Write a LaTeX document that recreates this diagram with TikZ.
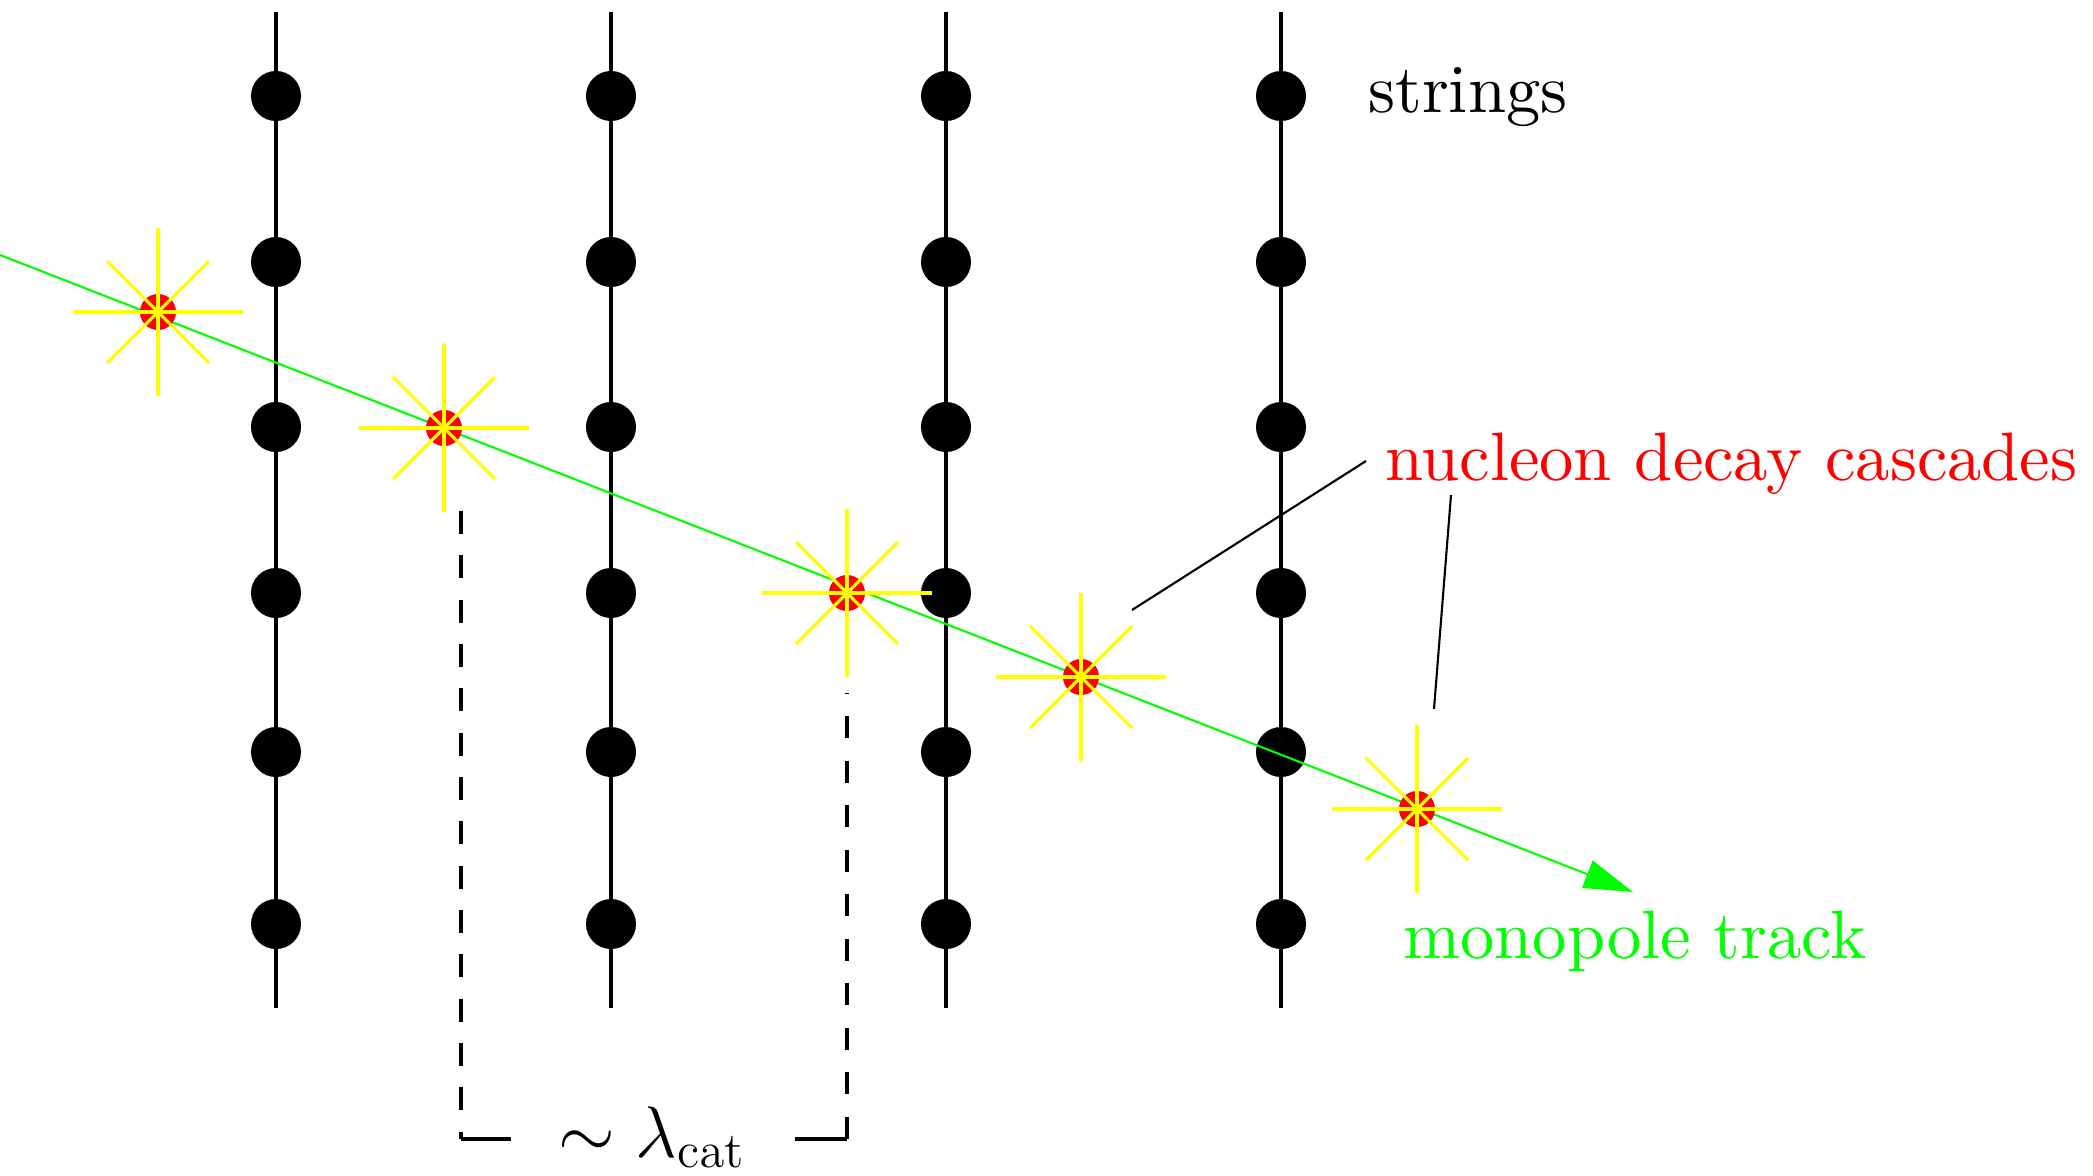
\documentclass[tikz,border=0pt]{standalone}
\usetikzlibrary{arrows.meta}
\definecolor{trk}{RGB}{0,255,0}
\definecolor{ylw}{RGB}{255,255,0}
\definecolor{rd}{RGB}{255,0,0}
\newcommand\lblfont{\fontsize{19.5}{23.4}\selectfont}
\newcommand\tenfont{\fontsize{10}{12}\selectfont}
\tikzset{
  stringline/.style={draw=black, line width=0.95pt},
  dom/.style={circle, fill=black, draw=none, minimum size=0.5cm, inner sep=0pt},
  track/.style={draw=trk, line width=0.6pt},
  casc/.style={circle, fill=rd, draw=none, minimum size=0.36cm, inner sep=0pt},
  ray/.style={draw=ylw, line width=0.9pt},
  leader/.style={draw=black, line width=0.6pt},
  brk/.style={draw=black, line width=0.95pt},
  lbl/.style={inner sep=0pt, font=\lblfont},
  wordlbl/.style={inner sep=0pt, font=\tenfont, scale=1.95},
}
\begin{document}
\begin{tikzpicture}[x=0.01cm, y=-0.01cm]
\useasboundingbox (0,0) rectangle (2093,1175);
% strings with optical modules
\foreach \i/\x in {1/276,2/611,3/946,4/1281} {
  \coordinate (s\i t) at (\x,12);
  \coordinate (s\i b) at (\x,1008);
  \draw[stringline] (s\i t) -- (s\i b);
  \foreach \j/\y in {1/96,2/262,3/427,4/593,5/752,6/924}
    \node[dom] (d\i\j) at (\x,\y) {};
}
% monopole track
\coordinate (trackstart) at (0,255);
\coordinate (tracktip) at (1633,892);
\draw[track, -{Triangle[length=0.49cm, width=0.29cm]}] (trackstart) -- (tracktip);
% cascades
\foreach \n/\x/\y in {1/158/312, 2/444/428, 3/847/593, 4/1081/677, 5/1417/809} {
  \node[casc] (c\n) at (\x,\y) {};
  \draw[ray] (\x-85,\y) -- (\x+85,\y);
  \draw[ray] (\x,\y-84) -- (\x,\y+84);
  \draw[ray] (\x-51,\y-51) -- (\x+51,\y+51);
  \draw[ray] (\x-51,\y+51) -- (\x+51,\y-51);
}
% labels
\node[wordlbl, anchor=base west] (lstrings) at (1367,112) {strings};
\node[wordlbl, anchor=base west, text=rd] (lcasc) at (1384,480) {nucleon decay cascades};
\node[wordlbl, anchor=base west, text=trk] (ltrack) at (1402,958) {monopole track};
\node[lbl, anchor=base] (llam) at (652,1157) {$\sim\lambda_{\mathrm{cat}}$};
% leader lines
\coordinate (la1) at (1132,610);
\coordinate (lb1) at (1366,461);
\coordinate (la2) at (1434,709);
\coordinate (lb2) at (1451,495);
\draw[leader] (la1) -- (lb1);
\draw[leader] (la2) -- (lb2);
% distance bracket
\coordinate (bl1) at (461,511);
\coordinate (bl2) at (461,1139);
\coordinate (bl3) at (511,1139);
\coordinate (br1) at (847,693);
\coordinate (br2) at (847,1139);
\coordinate (br3) at (795,1139);
\draw[brk, dash pattern=on 0.23cm off 0.213cm] (bl1) -- (bl2);
\draw[brk] (bl2) -- (bl3);
\draw[brk, dash pattern=on 0.22cm off 0.225cm] (br2) -- (br1);
\draw[brk] (br2) -- (br3);
\end{tikzpicture}
\end{document}
